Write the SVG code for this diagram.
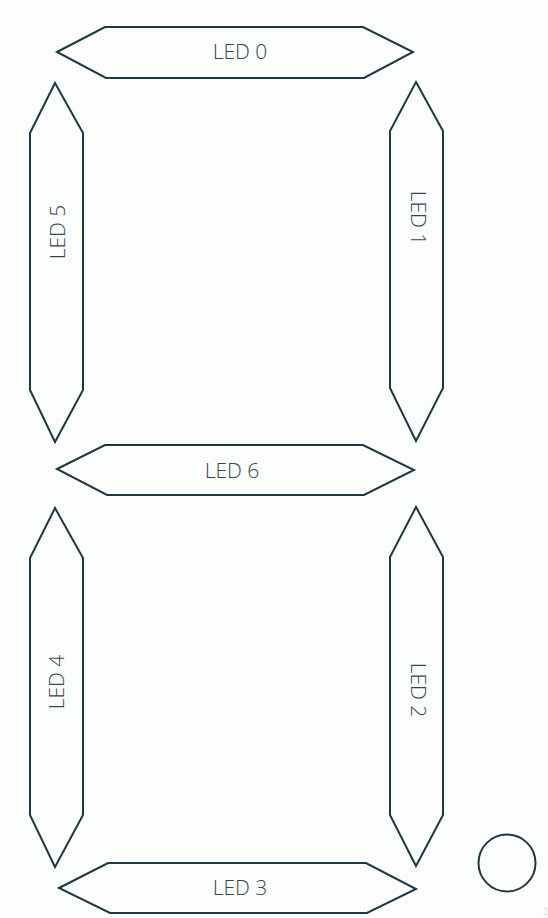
<svg xmlns="http://www.w3.org/2000/svg" width="548" height="918" viewBox="0 0 548 918">
<style>
.seg{fill:none;stroke:#1d3942;stroke-width:2;stroke-linejoin:miter}
.lbl{font-family:"Open Sans","DejaVu Sans",sans-serif;font-size:21px;font-weight:300;fill:#34474f;text-anchor:middle;dominant-baseline:central}
</style>
<rect width="548" height="918" fill="#fcfdfd"/>
<g id="led0"><polygon class="seg" points="57,52 105,27 363,27 413,52 364,78 106,78"/><text class="lbl" x="240" y="51">LED 0</text></g>
<g id="led1"><polygon class="seg" points="416,82 443,131 443,388 416,441 390,388 390,131"/><text class="lbl" transform="translate(419,218) rotate(90)">LED 1</text></g>
<g id="led2"><polygon class="seg" points="416,507 443,557 443,815 416,866 390,815 390,557"/><text class="lbl" transform="translate(419,690) rotate(90)">LED 2</text></g>
<g id="led3"><polygon class="seg" points="59,888 108,863 366,863 416,889 367,913 110,913"/><text class="lbl" x="240" y="887">LED 3</text></g>
<g id="led4"><polygon class="seg" points="55,508 83,558 83,815 55,867 30,815 30,558"/><text class="lbl" transform="translate(56,682) rotate(-90)">LED 4</text></g>
<g id="led5"><polygon class="seg" points="55,83 83,133 83,390 55,442 30,390 30,133"/><text class="lbl" transform="translate(57,232) rotate(-90)">LED 5</text></g>
<g id="led6"><polygon class="seg" points="57,469 105,445 363,445 414,470 364,495 107,495"/><text class="lbl" x="232" y="470">LED 6</text></g>
<g id="dp"><circle class="seg" cx="507" cy="863" r="28.5"/></g>
<text x="543" y="915" font-family="Open Sans, sans-serif" font-size="9" fill="#d8dcdd">2</text>
</svg>
